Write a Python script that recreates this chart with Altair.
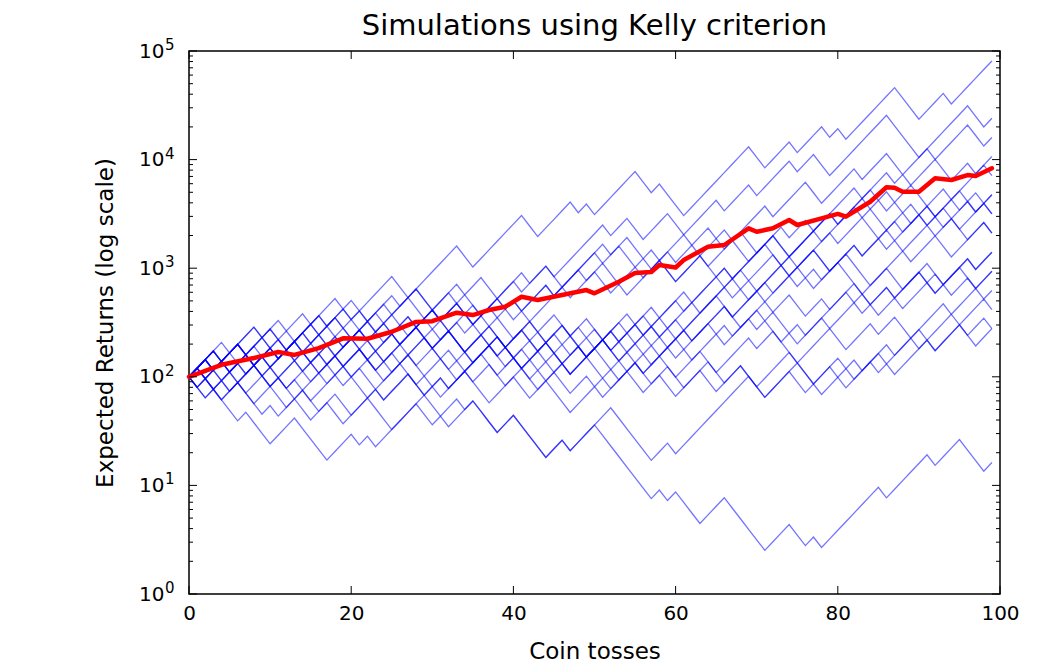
import altair as alt
import pandas as pd

# ---- data -----------------------------------------------------------------
# Every simulated bankroll starts at 100 and is multiplied by 1.2 on a win
# and by 0.8 on a loss (the lattice the drawn paths sit on).
START = 100.0
WIN = 1.2
LOSS = 0.8

# Win / loss runs of each of the 20 blue paths (+n = n wins, -n = n losses)
T1 = [4,-1,3,-1,2,-1,2,-1,3,-2,5,-2,6,-2,6,-2,4,-1,1,-1,5,-2,1,-3,8,-2,3,-1,3,-1,1,-1,6,-3,3,-1,5]
T2 = [3,-1,2,-1,3,-2,4,-1,2,-2,3,-1,2,-2,4,-3,4,-1,3,-1,6,-1,2,-2,3,-2,4,-1,3,-1,4,-1,2,-2,7,-4,6,-2,1]
P3 = [2,-1,3,-2,2,-1,3,-2,1,-1,4,-1,2,-2,3,-1,2,-3,4,-1,3,-1,6,-1,2,-3,1,-2,3,-1,4,-2,3,-1,2,-1,5,-1,3,-1,4,-1,4,-2,1]
P4 = [1,-1,2,-2,3,-1,2,-2,2,-1,3,-3,2,-1,3,-2,1,-2,4,-2,2,-3,3,-1,2,-2,1,-2,3,-1,6,-1,4,-1,5,-2,3,-1,4,-1,3,-1,7]
P5 = [2,-1,1,-1,3,-2,4,-1,1,-2,3,-1,2,-2,4,-1,2,-2,3,-1,1,-2,4,-1,3,-2,1,-1,
      5,-1,4,-2,5,-1,4,-2,4,-1,3,-3,3,-2,2,-1,1,-1]
P6 = [3,-2,2,-1,3,-2,3,-1,2,-3,3,-1,3,-2,2,-1,3,-3,2,-2,1,-2,3,-1,2,-2,
      6,-1,4,-1,5,-2,5,-1,4,-2,3,-3,3,-2,2]
P7 = [-1,1,-2,2,-3,1,-1,3,-2,1,-2,4,-1,3,-2,2,-1,4,-2,3,-1,2,-3,4,-1,3,-2,2,-1,5,-2,3,-1,4,-2,5,-1,3,-2,4,-1,3,-1,2]
P8 = [1,-1,4,-2,1,-1,3,-3,2,-1,3,-2,4,-2,2,-3,3,-1,3,-2,2,-1,2,-3,3,-1,4,
      -1,5,-1,5,-2,5,-1,3,-3,3,-2,2,-2,3,-1]
P9 = [-1,3,-1,2,-3,3,-1,2,-2,3,-1,1,-2,4,-1,2,-2,3,-2,2,-1,3,-2,1,-2,4,-1,2,-2,
      3,-1,4,-2,5,-1,4,-1,3,-3,4,-2,2,-2,2,-1]
P10 = [2,-1,3,-1,2,-2,4,-1,2,-2,3,-1,4,-2,2,-1,3,-2,3,-1,2,-2,4,-1,2,-3,2,-2,3,-3,2,-2,3,-2,2,-1,3,-3,4,-1,3,-2,4,-1]
P11 = [-2,2,-1,3,-2,1,-2,3,-1,2,-3,4,-2,1,-2,3,-1,2,-2,3,-2,2,-1,3,-3,4,-1,2,-2,4,-1,3,-3,2,-1,5,-2,3,-1,4,-2,3,-1,2]
P12 = [-2,1,-3,1,-3,3,-4,3,-1,1,-1,5,-2,3,-1,1,-3,2,-4,2,-1,5,-5,2,-1,9,-2,3,-2,1,-1,4,-1,2,-1,3,-1,9]
P13 = [2,-2,3,-1,2,-1,2,-2,3,-1,2,-2,4,-1,2,-2,3,-1,2,-2,4,-1,3,-1,2,-2,4,-1,3,-2,3,-3,2,-3,3,-2,1,-3,3,-2,2,-2,3,-2,2]
P14 = [-1,2,-2,3,-1,1,-2,2,-1,3,-2,2,-2,3,-1,2,-3,4,-1,1,-2,3,-2,2,-1,3,-2,1,-2,4,-1,2,-2,3,-1,2,-3,3,-1,4,-2,2,-1,4,-2,2,-2,1]
P15 = [3,-1,2,-1,3,-2,3,-1,2,-1,2,-3,3,-2,2,-3,2,-2,1,-3,3,-2,2,-3,3,-1,2,-2,3,-2,4,-1,2,-3,4,-2,3,-1,2,-2,4,-2,3,-1]
P16 = [1,-3,2,-1,3,-2,1,-2,3,-1,2,-3,3,-2,2,-1,2,-3,3,-2,2,-3,6,-1,1,-2,2,-2,3,-2,2,-2,4,-3,2,-2,3,-1,1,-1,4,-1,3,-2,2]
P17 = [2,-1,2,-2,3,-1,2,-1,3,-2,2,-1,2,-2,2,-2,2,-3,2,-2,1,-3,2,-2,2,-2,3,-2,2,-2,3,-2,3,-3,4,-2,3,-2,4,-1,3,-2,3,-1,2,-1]
P18 = [3,-1,4,-2,2,-1,3,-1,3,-2,3,-1,2,-3,2,-2,1,-3,2,-2,3,-3,2,-2,4,-1,2,
       -1,5,-1,5,-1,4,-1,4,-1,3,-3,4,-2,2,-2]
P19 = [1,-2,3,-1,1,-2,4,-2,2,-1,2,-2,3,-3,2,-1,4,-1,1,-3,3,-1,2,-2,3,-1,3,-3,2,-1,4,-2,3,-1,2,-2,2,-1,3,-2,2,-1,3,-2,4,-1,2]
L1 = [1,-2,2,-3,2,-2,1,-2,3,-2,2,-3,4,-3,3,-3,2,-4,2,-1,3,-7,1,-1,1,-3,3,-5,3,-2,1,-1,7,-1,5,-1,3,-3,1]

PATHS = [T1, T2, P3, P4, P5, P6, P7, P8, P9, P10,
         P11, P12, P13, P14, P15, P16, P17, P18, P19, L1]

# Red average curve (toss, value)
RED_TOSSES = [0, 4, 8, 11, 13, 16, 19, 22, 25, 28, 30, 33, 35, 37, 39, 41, 43, 46, 49, 50,
              53, 55, 57, 58, 60, 61, 64, 66, 69, 70, 72, 74, 75, 78, 80, 81, 84, 86, 87, 88,
              90, 92, 94, 96, 97, 99]
RED_VALUES = [100, 129, 149, 169, 159, 184, 226, 224, 260, 320, 325, 389, 370, 412, 442, 546, 509, 566, 629, 587,
              751, 903, 922, 1071, 1015, 1189, 1577, 1636, 2330, 2168, 2330, 2780, 2500, 2880, 3160, 2980, 4090, 5560, 5510, 5060,
              5060, 6720, 6490, 7210, 7060, 8310]

X_TICKS = [0, 20, 40, 60, 80, 100]
Y_TICKS = [1, 10, 100, 1000, 10000, 100000]
Y_EXPONENTS = ["0", "1", "2", "3", "4", "5"]
Y_MINOR = [m * 10 ** e for e in range(5) for m in range(2, 10)]

N_TOSSES = 99

# ---- build the long table ---------------------------------------------------
rows = []
for i, runs in enumerate(PATHS):
    v = START
    t = 0
    rows.append({"path": i, "toss": t, "value": v})
    for r in runs:
        for _ in range(abs(r)):
            if t >= N_TOSSES:
                break
            v = v * (WIN if r > 0 else LOSS)
            t += 1
            rows.append({"path": i, "toss": t, "value": v})
paths_df = pd.DataFrame(rows)
red_df = pd.DataFrame({"toss": RED_TOSSES, "value": RED_VALUES})

W, H = 811, 543
FONT = "DejaVu Sans"

xscale = alt.Scale(domain=[0, 100], nice=False, zero=False)
yscale = alt.Scale(type="log", domain=[1, 100000], nice=False)

x_axis = alt.Axis(values=X_TICKS, format="d", title="Coin tosses", ticks=False,
                  domain=False, grid=False, labelFontSize=20, labelPadding=9,
                  labelFlush=False, labelOverlap=False, labelColor="black",
                  titleFontSize=23, titleFontWeight="normal", titleColor="black",
                  titlePadding=17)
y_axis = alt.Axis(values=Y_TICKS, labelExpr="'10'", title="Expected Returns (log scale)",
                  ticks=False, domain=False, grid=False, labelFontSize=20,
                  labelPadding=25, labelFlush=False, labelOverlap=False, labelColor="black",
                  titleFontSize=23, titleFontWeight="normal", titleColor="black",
                  titlePadding=21)

X = alt.X("toss:Q", scale=xscale, axis=x_axis)
Y = alt.Y("value:Q", scale=yscale, axis=y_axis)

blue = alt.Chart(paths_df).mark_line(color="blue", opacity=0.55, strokeWidth=1.3).encode(
    x=X, y=Y, detail="path:N",
)

red = alt.Chart(red_df).mark_line(color="red", strokeWidth=4.5, strokeJoin="round",
                                  strokeCap="round").encode(x=X, y=Y)

ymaj_df = pd.DataFrame({"value": Y_TICKS, "exp": Y_EXPONENTS})
ymin_df = pd.DataFrame({"value": Y_MINOR})
xmaj_df = pd.DataFrame({"toss": X_TICKS})

# superscript exponents of the y tick labels (10^n)
exponents = alt.Chart(ymaj_df).mark_text(
    align="left", baseline="alphabetic", fontSize=15, font=FONT, color="black", dy=-1
).encode(y=Y, x=alt.value(-24), text="exp:N")


def yticks(df, x0, x1):
    return alt.Chart(df).mark_rule(color="black", strokeWidth=1).encode(
        y=Y, x=alt.value(x0), x2=alt.value(x1))


def xticks(df, y0, y1):
    return alt.Chart(df).mark_rule(color="black", strokeWidth=1).encode(
        x=X, y=alt.value(y0), y2=alt.value(y1))


tick_layers = [
    yticks(ymaj_df, 0, 8), yticks(ymaj_df, W - 8, W),
    yticks(ymin_df, 0, 4), yticks(ymin_df, W - 4, W),
    xticks(xmaj_df, H - 8, H), xticks(xmaj_df, 0, 8),
]

chart = alt.layer(blue, red, *tick_layers, exponents).properties(
    width=W, height=H,
    title=alt.Title("Simulations using Kelly criterion", fontSize=29, font=FONT,
                    fontWeight="normal", color="black", anchor="middle", offset=-3),
    autosize=alt.AutoSizeParams(type="none"),
    padding={"left": 189, "top": 51, "right": 43, "bottom": 75},
).configure(background="white", font=FONT).configure_axis(
    labelFont=FONT, titleFont=FONT
).configure_view(stroke="black", strokeWidth=1.5)

chart.save("out.html", embed_options={"renderer": "svg", "actions": False})
